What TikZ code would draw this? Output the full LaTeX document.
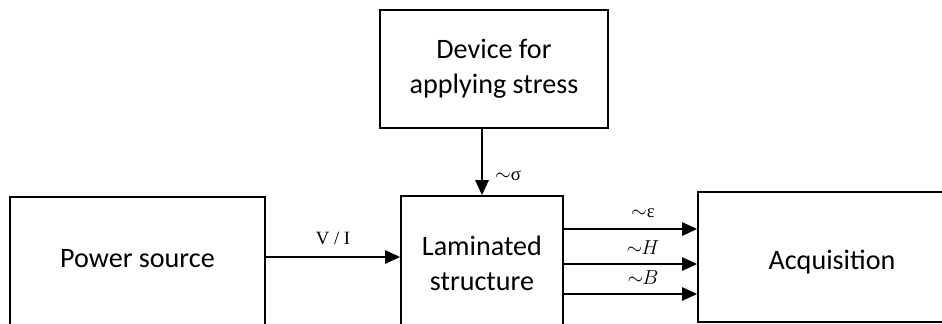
\documentclass[tikz,border=0pt]{standalone}
\usepackage{fontspec}
\setmainfont{Carlito}
\newfontfamily\lblfont{Liberation Serif}
\usetikzlibrary{arrows.meta, calc}

\begin{document}
\begin{tikzpicture}[x=0.03cm, y=-0.03cm,
        block/.style={draw, line width=1.5pt, align=center, inner sep=0pt,
            font=\fontsize{24}{30}\selectfont},
        sig/.style={line width=1.5pt, -{Triangle[length=0.45cm, width=0.4cm]}},
        lbl/.style={font=\fontsize{16}{18}\selectfont\lblfont, inner sep=0pt}]
        % Frame of the picture
        \useasboundingbox (0,0) rectangle (942,323);
        \clip (0,0) rectangle (942,323);

        % Blocks
        \node[block, minimum width=228*0.03cm, minimum height=118*0.03cm] (dev) at (494,69) {Device for\\applying stress};
        \node[block, minimum width=255*0.03cm, minimum height=132*0.03cm,
            text height=0.5cm, text depth=0.26cm] (pow) at (137.5,263) {Power source};
        \node[block, minimum width=162*0.03cm, minimum height=134*0.03cm] (lam) at (482,263) {Laminated\\structure};
        \node[block, minimum width=268*0.03cm, minimum height=130*0.03cm,
            text height=0.8cm, text depth=0.08cm] (acq) at (832,257) {Acquisition};

        % Stress input
        \draw[sig] (dev.south -| lam.north) -- (lam.north);
        \node[lbl] (sigma) at (508,176) {$\sim$σ};

        % Excitation
        \draw[sig] (pow.east |- 0,257) -- (lam.west |- 0,257);
        \node[lbl] (vi) at (333,238) {V / I};

        % Measured quantities
        \foreach \y/\txt in {229/{$\sim$ε}, 264/{$\sim\!\!H$}, 294/{$\sim\!\!B$}} {
            \draw[sig] (lam.east |- 0,\y) -- (acq.west |- 0,\y);
            \node[lbl] at (643,\y-16) {\txt};
        }
    \end{tikzpicture}
\end{document}
